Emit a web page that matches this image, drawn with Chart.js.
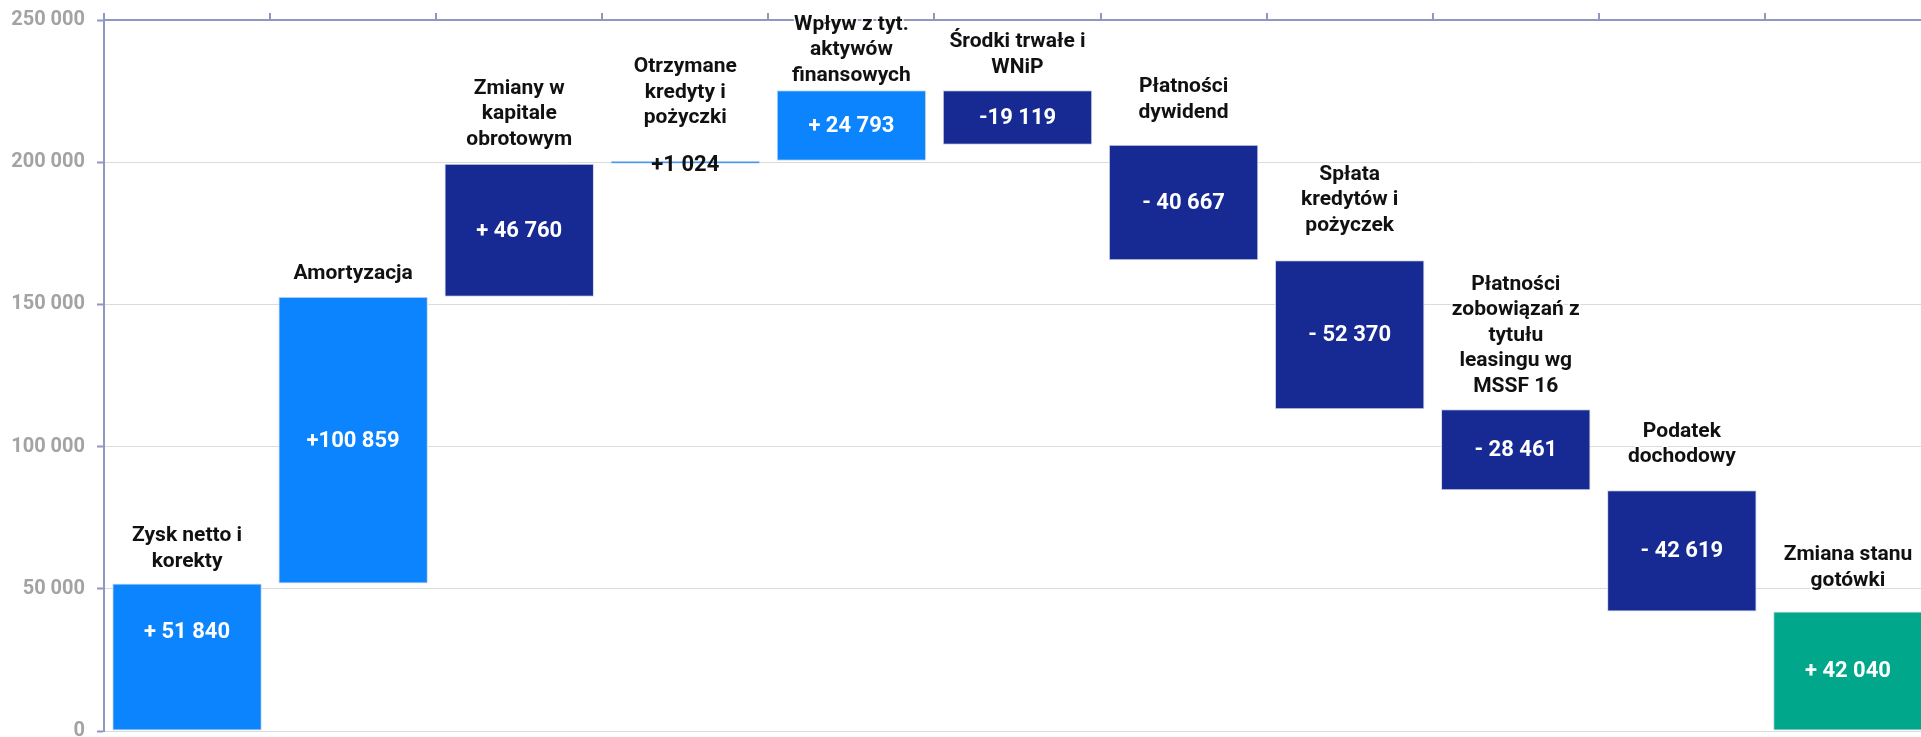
<!DOCTYPE html>
<html lang="pl">
<head>
<meta charset="utf-8">
<title>Przepływy pieniężne</title>
<script src="https://cdn.jsdelivr.net/npm/chart.js@4/dist/chart.umd.min.js"></script>
<style>
    html, body { margin: 0; padding: 0; background: #fff; overflow: hidden; }
    #wrap { width: 1931px; height: 737px; }
</style>
</head>
<body>
<div id="wrap"><canvas id="waterfall" width="1931" height="737"></canvas></div>
<script>
// dane z wykresu
const categories = [
    ['Zysk netto i', 'korekty'],
    ['Amortyzacja'],
    ['Zmiany w', 'kapitale', 'obrotowym'],
    ['Otrzymane', 'kredyty i', 'pożyczki'],
    ['Wpływ z tyt.', 'aktywów', 'finansowych'],
    ['Środki trwałe i', 'WNiP'],
    ['Płatności', 'dywidend'],
    ['Spłata', 'kredytów i', 'pożyczek'],
    ['Płatności', 'zobowiązań z', 'tytułu', 'leasingu wg', 'MSSF 16'],
    ['Podatek', 'dochodowy'],
    ['Zmiana stanu', 'gotówki']
];
const changes = [51840, 100859, 46760, 1024, 24793, -19119, -40667, -52370, -28461, -42619, 42040];
const valueLabels = ['+ 51 840', '+100 859', '+ 46 760', '+1 024', '+ 24 793', '-19 119',
    '- 40 667', '- 52 370', '- 28 461', '- 42 619', '+ 42 040'];
const yTicks = [0, 50000, 100000, 150000, 200000, 250000];

// kolory slupkow
const LIGHT = '#0b84fe';
const NAVY = '#172a93';
const GREEN = '#01a78b';
const barColors = [LIGHT, LIGHT, NAVY, LIGHT, LIGHT, NAVY, NAVY, NAVY, NAVY, NAVY, GREEN];

// ostatni slupek to suma (od zera)
function get_ranges() {
    const ranges = [];
    let running = 0;
    changes.forEach((v, i) => {
        if (i === changes.length - 1) {
            ranges.push([0, v]);
            return;
        }
        ranges.push([running, running + v]);
        running += v;
    });
    return ranges;
}

function format_num(v) {
    return String(v).replace(/\B(?=(\d{3})+(?!\d))/g, ' ');
}

const waterfallLabels = {
    id: 'waterfallLabels',
    afterDatasetsDraw(chart, args, opts) {
        const ctx = chart.ctx;
        const meta = chart.getDatasetMeta(0);
        ctx.save();
        ctx.textAlign = 'center';
        ctx.textBaseline = 'middle';
        meta.data.forEach((bar, i) => {
            const top = Math.min(bar.y, bar.base);
            const bottom = Math.max(bar.y, bar.base);
            const thin = bottom - top < 10;
            // wartosc
            ctx.font = 'bold 22px Roboto';
            ctx.fillStyle = thin ? '#111' : '#fff';
            ctx.fillText(valueLabels[i], bar.x, (top + bottom) / 2 + (thin ? 3 : 1) + opts.valueShift[i]);
            // nazwa nad slupkiem
            const lines = categories[i];
            const last = top - opts.gaps[i];
            ctx.font = 'bold 21px Roboto';
            ctx.lineJoin = 'round';
            lines.forEach((line, k) => {
                const y = last - (lines.length - 1 - k) * opts.lineHeight;
                ctx.strokeStyle = 'rgba(255,255,255,0.95)';
                ctx.lineWidth = 3;
                ctx.strokeText(line, bar.x, y);
                ctx.fillStyle = '#111';
                ctx.fillText(line, bar.x, y);
            });
        });
        ctx.restore();
    }
};

const AXIS = '#9097c0';

const config = {
    type: 'bar',
    data: {
        labels: categories.map(c => c.join(' ')),
        datasets: [{
            data: get_ranges(),
            backgroundColor: barColors,
            borderColor: '#d3d9e6',
            borderWidth: 1,
            borderSkipped: false,
            categoryPercentage: 0.9,
            barPercentage: 1.0
        }]
    },
    options: {
        responsive: false,
        animation: false,
        layout: { padding: { top: 0, right: 0, bottom: 6, left: 0 } },
        scales: {
            x: {
                position: 'top',
                ticks: { display: false },
                grid: { drawOnChartArea: false, drawTicks: true, tickLength: 7, color: AXIS, lineWidth: 2 },
                border: { color: AXIS, width: 2 },
                afterFit(scale) { scale.height = 20; }
            },
            y: {
                min: 0,
                max: 250000,
                afterBuildTicks(scale) { scale.ticks = yTicks.map(v => ({ value: v })); },
                ticks: {
                    color: '#a3a3a3',
                    padding: 12,
                    font: { family: 'Roboto', size: 20, weight: 'bold' },
                    callback: v => format_num(v)
                },
                grid: { color: '#dcdcdc', lineWidth: 1, tickLength: 7, tickColor: AXIS, tickWidth: 2 },
                border: { color: AXIS, width: 2 },
                afterFit(scale) {
                    scale.width = 104;
                    scale.paddingTop = 0;
                    scale.paddingBottom = 0;
                }
            }
        },
        plugins: {
            legend: { display: false },
            tooltip: { enabled: false },
            waterfallLabels: {
                lineHeight: 25.5,
                gaps: [22, 23, 24, 43, 15, 23, 32, 35, 23, 33, 31],
                valueShift: [-26, 0, 0, 0, 0, 0, 0, 0, 0, 0, 0]
            }
        }
    },
    plugins: [waterfallLabels]
};

new Chart(document.getElementById('waterfall'), config);
</script>
</body>
</html>
